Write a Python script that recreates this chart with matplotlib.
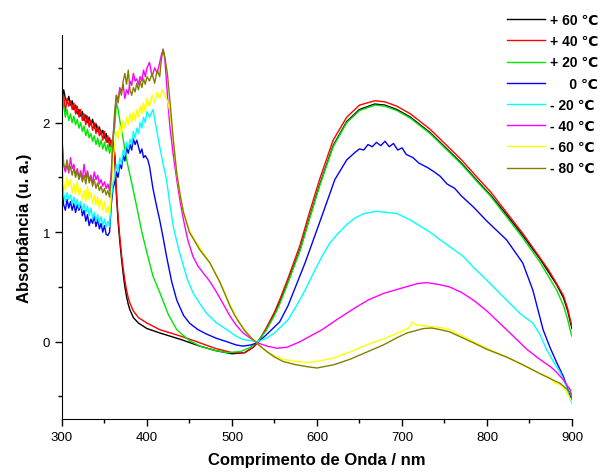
import matplotlib
matplotlib.use('Agg')
import matplotlib.pyplot as plt
from matplotlib.ticker import MultipleLocator

plt.rcParams['font.family'] = ['Liberation Sans', 'DejaVu Sans']

# +60 C
wl_p60 = [300, 302, 304, 306, 308, 310, 312, 314, 316, 318, 320, 322, 324, 326, 328, 330, 332, 334, 336, 338,
          340, 342, 344, 346, 348, 350, 352, 354, 356, 358, 360, 362, 364, 366, 368, 370, 372, 374, 376, 378,
          380, 384, 390, 400, 415, 440, 462, 480, 500, 515, 525, 530, 540, 550, 556, 565, 580, 590, 603, 619,
          635, 650, 668, 680, 694, 710, 733, 745, 770, 792, 804, 823, 842, 862, 872, 882, 890, 895, 898, 900]
ab_p60 = [2.20, 2.30, 2.22, 2.18, 2.24, 2.16, 2.20, 2.12, 2.16, 2.08, 2.12, 2.06, 2.10, 2.02, 2.07, 2.00, 2.05, 1.98, 2.03, 1.95,
          1.99, 1.92, 1.96, 1.89, 1.93, 1.86, 1.90, 1.82, 1.86, 1.78, 1.83, 1.72, 1.35, 1.10, 0.92, 0.76, 0.62, 0.50, 0.41, 0.34,
          0.29, 0.22, 0.17, 0.12, 0.08, 0.02, -0.04, -0.08, -0.11, -0.10, -0.05, -0.01, 0.11, 0.26, 0.36, 0.53, 0.84, 1.10, 1.43, 1.79,
          2.01, 2.12, 2.17, 2.16, 2.12, 2.05, 1.91, 1.82, 1.63, 1.44, 1.34, 1.16, 0.97, 0.76, 0.64, 0.52, 0.40, 0.28, 0.18, 0.12]

# +40 C
wl_p40 = wl_p60
ab_p40 = [2.15, 2.25, 2.10, 2.22, 2.15, 2.20, 2.12, 2.18, 2.08, 2.15, 2.05, 2.12, 2.02, 2.08, 1.98, 2.06, 1.96, 2.02, 1.93, 2.00,
          1.90, 1.97, 1.88, 1.93, 1.84, 1.92, 1.82, 1.88, 1.78, 1.84, 1.76, 1.70, 1.38, 1.14, 0.96, 0.80, 0.67, 0.56, 0.47, 0.40,
          0.35, 0.28, 0.22, 0.17, 0.11, 0.05, -0.01, -0.06, -0.10, -0.10, -0.05, -0.01, 0.12, 0.27, 0.38, 0.56, 0.88, 1.15, 1.48, 1.84,
          2.05, 2.16, 2.20, 2.19, 2.15, 2.08, 1.94, 1.85, 1.66, 1.47, 1.37, 1.18, 0.99, 0.77, 0.66, 0.53, 0.42, 0.30, 0.20, 0.14]

# +20 C
wl_p20 = [300, 302, 304, 306, 308, 310, 312, 314, 316, 318, 320, 322, 324, 326, 328, 330, 332, 334, 336, 338,
          340, 342, 344, 346, 348, 350, 352, 354, 356, 358, 360, 362, 364, 366, 368, 372, 376, 382, 388, 394,
          400, 407, 415, 425, 435, 450, 462, 480, 494, 510, 522, 530, 540, 550, 556, 565, 580, 590, 603, 619,
          635, 650, 668, 680, 694, 710, 733, 745, 770, 792, 804, 823, 842, 862, 872, 882, 890, 895, 898, 900]
ab_p20 = [2.30, 2.15, 2.05, 2.12, 2.02, 2.08, 2.00, 2.06, 1.98, 2.03, 1.95, 2.00, 1.92, 1.97, 1.88, 1.94, 1.86, 1.90, 1.83, 1.88,
          1.80, 1.86, 1.78, 1.84, 1.76, 1.82, 1.74, 1.80, 1.72, 1.78, 1.85, 1.95, 2.18, 2.12, 2.02, 1.85, 1.66, 1.45, 1.23, 1.00,
          0.81, 0.60, 0.45, 0.25, 0.11, 0.01, -0.04, -0.08, -0.10, -0.09, -0.05, 0.00, 0.10, 0.24, 0.34, 0.52, 0.83, 1.09, 1.42, 1.78,
          2.00, 2.11, 2.16, 2.15, 2.11, 2.04, 1.90, 1.81, 1.62, 1.43, 1.33, 1.14, 0.95, 0.73, 0.60, 0.47, 0.33, 0.20, 0.10, 0.05]

# 0 C
wl_0 = [300, 302, 304, 306, 308, 310, 312, 314, 316, 318, 320, 322, 324, 326, 328, 330, 332, 334, 336, 338,
        340, 342, 344, 346, 348, 350, 352, 354, 356, 358, 360, 362, 364, 366, 368, 370, 372, 374, 376, 378,
        380, 382, 384, 386, 388, 390, 392, 394, 396, 398, 401, 403, 407, 411, 415, 419, 423, 429, 435, 443,
        450, 460, 470, 482, 494, 505, 513, 522, 530, 540, 556, 566, 586, 605, 621, 635, 645, 650, 655,
        660, 665, 670, 675, 680, 685, 690, 695, 700, 705, 713, 720, 730, 738, 745, 753, 762, 770, 784, 800,
        823, 842, 854, 866, 874, 882, 890, 898, 900]
ab_0 = [1.40, 1.25, 1.20, 1.30, 1.22, 1.28, 1.20, 1.26, 1.18, 1.25, 1.20, 1.26, 1.15, 1.20, 1.10, 1.16, 1.06, 1.12, 1.08, 1.15,
        1.05, 1.12, 1.03, 1.08, 1.00, 1.06, 0.98, 0.97, 1.00, 1.25, 1.40, 1.45, 1.55, 1.50, 1.62, 1.58, 1.70, 1.65, 1.78, 1.72,
        1.80, 1.75, 1.85, 1.80, 1.84, 1.78, 1.72, 1.76, 1.68, 1.70, 1.66, 1.60, 1.40, 1.25, 1.11, 0.95, 0.78, 0.55, 0.38, 0.24,
        0.17, 0.11, 0.07, 0.03, 0.00, -0.03, -0.04, -0.03, -0.01, 0.06, 0.18, 0.33, 0.72, 1.13, 1.48, 1.66, 1.73, 1.76, 1.75,
        1.80, 1.78, 1.82, 1.79, 1.83, 1.78, 1.81, 1.75, 1.77, 1.71, 1.68, 1.63, 1.59, 1.55, 1.51, 1.44, 1.40, 1.33, 1.23, 1.10,
        0.93, 0.72, 0.47, 0.11, -0.05, -0.19, -0.32, -0.50, -0.55]

# -20 C
wl_m20 = [300, 302, 304, 306, 308, 310, 312, 314, 316, 318, 320, 322, 324, 326, 328, 330, 332, 334, 336, 338,
          340, 342, 344, 346, 348, 350, 352, 354, 356, 358, 360, 362, 364, 366, 368, 370, 372, 374, 376, 378,
          380, 382, 384, 386, 388, 390, 392, 394, 396, 398, 400, 403, 407, 411, 415, 419, 423, 427, 431, 437,
          443, 448, 454, 462, 470, 482, 494, 505, 513, 522, 530, 540, 550, 566, 576, 586, 596, 606, 615, 625,
          635, 645, 655, 670, 694, 710, 733, 745, 772, 784, 800, 823, 840, 854, 862, 870, 878, 886, 892, 898, 900]
ab_m20 = [1.55, 1.35, 1.28, 1.36, 1.30, 1.34, 1.26, 1.32, 1.24, 1.30, 1.22, 1.28, 1.20, 1.26, 1.18, 1.24, 1.15, 1.22, 1.12, 1.18,
          1.10, 1.16, 1.08, 1.14, 1.06, 1.12, 1.05, 1.10, 1.05, 1.30, 1.45, 1.50, 1.62, 1.55, 1.68, 1.62, 1.75, 1.70, 1.82, 1.76,
          1.85, 1.80, 1.92, 1.86, 1.95, 1.90, 2.00, 1.95, 2.05, 2.00, 2.10, 2.05, 2.12, 1.95, 1.78, 1.62, 1.48, 1.25, 1.05, 0.85,
          0.69, 0.56, 0.45, 0.35, 0.26, 0.17, 0.11, 0.05, 0.02, 0.01, 0.00, 0.03, 0.08, 0.20, 0.33, 0.47, 0.63, 0.78, 0.90, 0.99,
          1.07, 1.13, 1.17, 1.19, 1.17, 1.11, 1.00, 0.93, 0.78, 0.68, 0.56, 0.38, 0.25, 0.17, 0.07, -0.07, -0.18, -0.28, -0.38, -0.53, -0.56]

# -40 C
wl_m40 = [300, 302, 304, 306, 308, 310, 312, 314, 316, 318, 320, 322, 324, 326, 328, 330, 332, 334, 336, 338,
          340, 342, 344, 346, 348, 350, 352, 354, 356, 358, 360, 362, 364, 366, 368, 370, 372, 374, 376, 378,
          380, 382, 384, 386, 388, 390, 392, 394, 396, 398, 400, 403, 406, 409, 412, 415, 417, 419, 421, 423,
          425, 427, 431, 435, 439, 443, 448, 454, 460, 466, 474, 482, 490, 498, 505, 513, 522, 530, 541, 553,
          565, 580, 606, 625, 645, 660, 678, 700, 718, 729, 745, 756, 770, 784, 800, 823, 847, 862, 875, 882,
          890, 898, 900]
ab_m40 = [1.87, 1.60, 1.55, 1.62, 1.54, 1.68, 1.58, 1.62, 1.52, 1.58, 1.50, 1.56, 1.48, 1.62, 1.50, 1.56, 1.48, 1.52, 1.45, 1.55,
          1.48, 1.52, 1.44, 1.48, 1.42, 1.46, 1.40, 1.44, 1.38, 1.55, 1.85, 2.05, 2.25, 2.20, 2.32, 2.28, 2.35, 2.22, 2.30, 2.26,
          2.38, 2.34, 2.45, 2.38, 2.40, 2.35, 2.42, 2.38, 2.48, 2.42, 2.50, 2.55, 2.42, 2.50, 2.45, 2.55, 2.62, 2.67, 2.58, 2.37,
          2.15, 1.96, 1.70, 1.48, 1.28, 1.11, 0.93, 0.78, 0.69, 0.63, 0.55, 0.45, 0.34, 0.23, 0.15, 0.08, 0.03, -0.01, -0.04, -0.06,
          -0.05, 0.00, 0.11, 0.21, 0.31, 0.38, 0.44, 0.49, 0.53, 0.54, 0.52, 0.50, 0.45, 0.38, 0.28, 0.11, -0.07, -0.16, -0.23, -0.28,
          -0.35, -0.44, -0.52]

# -60 C
wl_m60 = [300, 302, 304, 306, 308, 310, 312, 314, 316, 318, 320, 322, 324, 326, 328, 330, 332, 334, 336, 338,
          340, 342, 344, 346, 348, 350, 352, 354, 356, 358, 360, 362, 364, 366, 368, 370, 372, 374, 376, 378,
          380, 382, 384, 386, 388, 390, 392, 394, 396, 398, 400, 403, 406, 409, 412, 415, 418, 421, 424, 427,
          431, 435, 439, 443, 450, 456, 462, 468, 474, 480, 486, 492, 498, 504, 509, 515, 521, 530, 541, 550,
          560, 575, 588, 600, 619, 640, 658, 680, 698, 707, 710, 712, 715, 721, 733, 745, 756, 784, 800, 823,
          842, 862, 875, 880, 886, 892, 898, 900]
ab_m60 = [1.68, 1.45, 1.38, 1.50, 1.42, 1.48, 1.36, 1.44, 1.35, 1.46, 1.34, 1.40, 1.30, 1.38, 1.28, 1.42, 1.30, 1.36, 1.26, 1.34,
          1.25, 1.32, 1.22, 1.30, 1.20, 1.28, 1.18, 1.24, 1.16, 1.40, 1.65, 1.80, 1.92, 1.85, 1.98, 1.90, 2.02, 1.95, 2.05, 1.98,
          2.08, 2.00, 2.10, 2.02, 2.12, 2.05, 2.15, 2.08, 2.18, 2.10, 2.22, 2.15, 2.25, 2.18, 2.28, 2.22, 2.30, 2.25, 2.20, 2.10,
          1.84, 1.54, 1.34, 1.18, 1.01, 0.93, 0.86, 0.79, 0.72, 0.63, 0.54, 0.44, 0.33, 0.24, 0.17, 0.11, 0.05, -0.02, -0.09, -0.13,
          -0.16, -0.18, -0.19, -0.18, -0.15, -0.09, -0.03, 0.03, 0.09, 0.12, 0.15, 0.18, 0.16, 0.15, 0.14, 0.13, 0.11, 0.00, -0.06, -0.14,
          -0.21, -0.29, -0.33, -0.38, -0.39, -0.44, -0.52, -0.55]

# -80 C
wl_m80 = [300, 302, 304, 306, 308, 310, 312, 314, 316, 318, 320, 322, 324, 326, 328, 330, 332, 334, 336, 338,
          340, 342, 344, 346, 348, 350, 352, 354, 356, 358, 360, 362, 364, 366, 368, 370, 372, 374, 376, 378,
          380, 382, 384, 386, 388, 390, 392, 394, 396, 398, 400, 403, 406, 409, 412, 415, 417, 419, 421, 424,
          427, 431, 435, 439, 443, 450, 456, 462, 468, 474, 480, 486, 492, 498, 504, 509, 515, 521, 530, 541,
          550, 560, 575, 590, 600, 620, 639, 660, 678, 695, 706, 725, 735, 745, 756, 784, 800, 823, 842, 862,
          875, 886, 892, 898, 900]
ab_m80 = [1.82, 1.62, 1.58, 1.66, 1.56, 1.60, 1.52, 1.58, 1.50, 1.56, 1.48, 1.54, 1.46, 1.52, 1.44, 1.55, 1.45, 1.50, 1.42, 1.48,
          1.40, 1.45, 1.38, 1.42, 1.36, 1.40, 1.34, 1.38, 1.32, 1.50, 1.85, 2.10, 2.25, 2.18, 2.30, 2.25, 2.38, 2.45, 2.35, 2.48,
          2.30, 2.25, 2.32, 2.28, 2.36, 2.30, 2.38, 2.32, 2.40, 2.35, 2.42, 2.38, 2.45, 2.36, 2.48, 2.42, 2.58, 2.67, 2.60, 2.45,
          2.20, 1.84, 1.54, 1.34, 1.18, 1.00, 0.92, 0.84, 0.78, 0.72, 0.63, 0.54, 0.43, 0.32, 0.23, 0.17, 0.10, 0.05, -0.02, -0.09,
          -0.14, -0.18, -0.21, -0.23, -0.24, -0.21, -0.16, -0.09, -0.03, 0.04, 0.08, 0.12, 0.125, 0.11, 0.09, -0.01, -0.07, -0.14, -0.21, -0.29,
          -0.34, -0.38, -0.42, -0.46, -0.50]

series = [
    (wl_p60, ab_p60, '+ 60 \u2103', 'black'),
    (wl_p40, ab_p40, '+ 40 \u2103', '#ff0000'),
    (wl_p20, ab_p20, '+ 20 \u2103', '#00e600'),
    (wl_0, ab_0, '     0 \u2103', '#0000ff'),
    (wl_m20, ab_m20, '- 20 \u2103', '#00ffff'),
    (wl_m40, ab_m40, '- 40 \u2103', '#ff00ff'),
    (wl_m60, ab_m60, '- 60 \u2103', '#ffff00'),
    (wl_m80, ab_m80, '- 80 \u2103', '#808000'),
]

fig = plt.figure(figsize=(6.04, 4.77), dpi=100)
ax = fig.add_axes([0.1026, 0.1185, 0.8444, 0.806])

for wl, ab, lab, col in series:
    ax.plot(wl, ab, color=col, lw=1.0, label=lab)

ax.set_xlim(300, 900)
ax.set_ylim(-0.71, 2.8)
ax.xaxis.set_major_locator(MultipleLocator(100))
ax.xaxis.set_minor_locator(MultipleLocator(50))
ax.yaxis.set_major_locator(MultipleLocator(1))
ax.yaxis.set_minor_locator(MultipleLocator(0.5))
ax.spines['top'].set_visible(False)
ax.spines['right'].set_visible(False)
ax.tick_params(which='major', direction='out', length=5, width=1, labelsize=9.5)
ax.tick_params(which='minor', direction='out', length=3, width=1)

ax.set_xlabel('Comprimento de Onda / nm', fontsize=12, fontweight='bold', labelpad=6)
ax.set_ylabel('Absorbância (u. a.)', fontsize=12, fontweight='bold', labelpad=8)

fig.legend(loc='upper right', bbox_to_anchor=(1.012, 0.997), frameon=False,
           handlelength=2.7, handletextpad=0.4, labelspacing=0.52,
           prop={'weight': 'bold', 'size': 10})

fig.savefig('out.png', dpi=100)
